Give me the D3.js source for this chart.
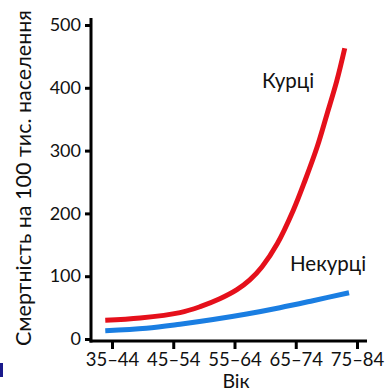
<!DOCTYPE html>
<html><head><meta charset="utf-8">
<script src="https://cdn.jsdelivr.net/npm/d3@7/dist/d3.min.js"></script>
<style>body{margin:0;background:#fff}svg{display:block}</style>
</head><body>
<script>
const categories = ["35–44","45–54","55–64","65–74","75–84"];
const yTicks = [0,100,200,300,400,500];
// positions along the age axis (0 = 35–44 ... 4 = 75–84) and death rates
const smokersX = [-0.11,0.46,1.11,1.44,1.76,2.04,2.25,2.45,2.70,2.96,3.15,3.35,3.51,3.67,3.80];
const smokersY = [30,33.5,42,51.5,64,78.5,94,115,152,205,252,306,358,411,463];
const nonSmokersX = [-0.11,0.56,1.11,1.65,2.20,2.74,3.28,3.87];
const nonSmokersY = [13,17,23.5,31,39.8,49.8,61,73.7];
const seriesNames = ["Курці","Некурці"];

const W=389,H=392;
const svg=d3.select("body").append("svg").attr("width",W).attr("height",H);
const font="Lato, 'Open Sans', sans-serif";
const x=d3.scaleLinear().domain([0,4]).range([112,357]);
const y=d3.scaleLinear().domain([0,500]).range([339,25]);

// y axis
const ya=svg.append("g").attr("transform","translate(91,0)")
  .call(d3.axisLeft(y).tickValues(yTicks).tickSize(6).tickPadding(4).tickFormat(d3.format("d")));
ya.select(".domain").remove();
ya.selectAll(".tick line").attr("stroke","#000").attr("stroke-width",3);
ya.selectAll(".tick text").attr("font-family",font).attr("font-size",18).attr("fill","#111");

// x axis
const xa=svg.append("g").attr("transform","translate(0,341)")
  .call(d3.axisBottom(x).tickValues(d3.range(categories.length)).tickSize(8).tickPadding(4).tickFormat(i=>categories[i]));
xa.select(".domain").remove();
xa.selectAll(".tick line").attr("stroke","#000").attr("stroke-width",3);
xa.selectAll(".tick text").attr("font-family",font).attr("font-size",18.5).attr("fill","#111");

// axis lines
svg.append("line").attr("x1",91).attr("x2",91).attr("y1",y(500)-7).attr("y2",342.5).attr("stroke","#000").attr("stroke-width",3);
svg.append("line").attr("x1",89.5).attr("x2",367).attr("y1",341).attr("y2",341).attr("stroke","#000").attr("stroke-width",3);

const line=d3.line().x(d=>x(d[0])).y(d=>y(d[1])).curve(d3.curveCatmullRom.alpha(0.5));
svg.append("path").datum(nonSmokersX.map((v,i)=>[v,nonSmokersY[i]]))
  .attr("d",line).attr("fill","none").attr("stroke","#1a7ee2").attr("stroke-width",5);
svg.append("path").datum(smokersX.map((v,i)=>[v,smokersY[i]]))
  .attr("d",line).attr("fill","none").attr("stroke","#e5101b").attr("stroke-width",5);

svg.append("text").attr("x",262).attr("y",88).attr("font-family",font).attr("font-size",20.5).attr("fill","#111").text(seriesNames[0]);
svg.append("text").attr("x",290).attr("y",271).attr("font-family",font).attr("font-size",20.5).attr("fill","#111").text(seriesNames[1]);

svg.append("text").attr("x",236).attr("y",388).attr("text-anchor","middle").attr("font-family",font).attr("font-size",19.5).attr("fill","#111").text("Вік");
svg.append("text").attr("transform","translate(31,178) rotate(-90)").attr("text-anchor","middle")
  .attr("font-family",font).attr("font-size",21.5).attr("fill","#111").text("Смертність на 100 тис. населення");

svg.append("rect").attr("x",0).attr("y",363).attr("width",3).attr("height",14).attr("fill","#1a1a8c");
</script>
</body></html>
